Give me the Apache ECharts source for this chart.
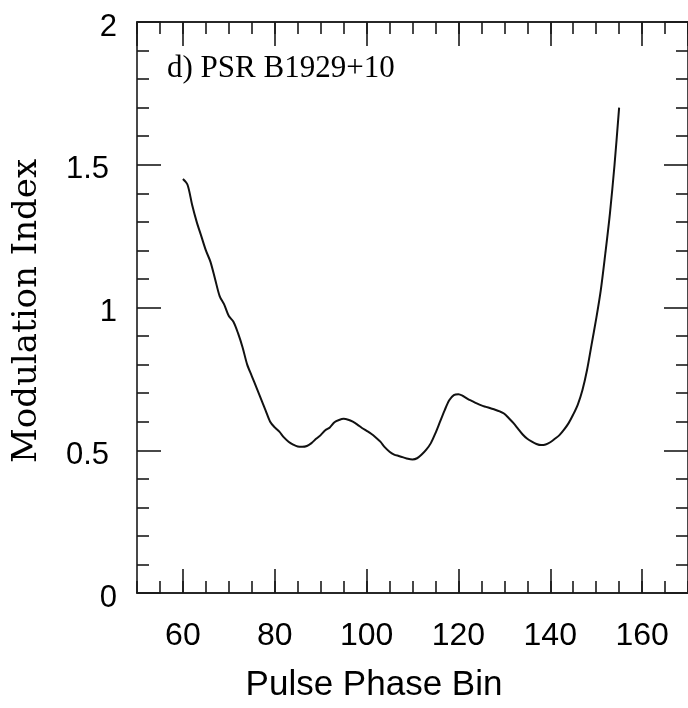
<!DOCTYPE html>
<html>
<head>
<meta charset="utf-8">
<script src="https://cdn.jsdelivr.net/npm/echarts@6/dist/echarts.min.js"></script>
<style>
html,body{margin:0;padding:0;background:#fff;}
#chart{width:688px;height:708px;}
</style>
</head>
<body>
<div id="chart"></div>
<script>
const phaseBins = [60,61,62,63,64,65,66,67,68,69,70,71,72,73,74,75,76,77,78,79,80,81,82,83,84,85,86,87,88,89,90,91,92,93,94,95,96,97,98,99,100,101,102,103,104,105,106,107,108,109,110,111,112,113,114,115,116,117,118,119,120,121,122,123,124,125,126,127,128,129,130,131,132,133,134,135,136,137,138,139,140,141,142,143,144,145,146,147,148,149,150,151,152,153,154,155];
const modIndex = [1.45,1.43,1.36,1.30,1.25,1.20,1.16,1.10,1.04,1.01,0.97,0.95,0.91,0.86,0.80,0.76,0.72,0.68,0.64,0.60,0.58,0.565,0.545,0.53,0.52,0.513,0.512,0.515,0.525,0.54,0.553,0.57,0.58,0.598,0.606,0.61,0.607,0.60,0.59,0.578,0.568,0.558,0.545,0.53,0.51,0.495,0.485,0.48,0.475,0.47,0.468,0.472,0.485,0.502,0.525,0.56,0.60,0.64,0.675,0.693,0.696,0.69,0.68,0.672,0.664,0.657,0.652,0.647,0.642,0.636,0.628,0.612,0.595,0.575,0.555,0.54,0.53,0.522,0.518,0.52,0.528,0.54,0.553,0.572,0.595,0.625,0.66,0.71,0.78,0.87,0.96,1.06,1.19,1.33,1.50,1.70];
const xRange = [50, 170];
const yRange = [0, 2];
const yTickLabels = ['0','0.5','1','1.5','2'];
const titleText = 'd) PSR B1929+10';
const xName = 'Pulse Phase Bin';
const yName = 'Modulation Index';

const chart = echarts.init(document.getElementById('chart'), null, {renderer:'canvas'});
const axisCol = '#1a1a1a';
const lineStyle = {color: axisCol, width: 1.6};
function xAx(pos, major, labels) {
  const a = {
    type: 'value', position: pos, min: xRange[0], max: xRange[1],
    axisLine: {show: true, onZero: false, lineStyle: lineStyle},
    axisTick: {show: true, inside: true, length: major ? 24 : 12, lineStyle: lineStyle},
    splitLine: {show: false},
    axisLabel: {show: labels, fontSize: 32, fontFamily: 'Liberation Sans', color: '#000', margin: 27,
      showMinLabel: false, showMaxLabel: false}
  };
  if (major) { a.splitNumber = 6; } else { a.interval = 5; }
  return a;
}
function yAx(pos, labels) {
  return {
    type: 'value', position: pos, min: yRange[0], max: yRange[1], interval: 0.5,
    axisLine: {show: true, onZero: false, lineStyle: lineStyle},
    axisTick: {show: true, inside: true, length: 24, lineStyle: lineStyle},
    minorTick: {show: true, splitNumber: 5, length: 12, lineStyle: lineStyle},
    splitLine: {show: false},
    axisLabel: {show: labels, margin: 20, padding: [10,0,0,0],
      formatter: function (v) {
        const s = yTickLabels.find(t => Math.abs(parseFloat(t) - v) < 1e-9) || String(v);
        return s.indexOf('.') >= 0 ? '{f|' + s + '}' : '{i|' + s + '}';
      },
      rich: {
        i: {fontSize: 31, fontFamily: 'Liberation Sans', color: '#000'},
        f: {fontSize: 31, fontFamily: 'Liberation Sans', color: '#000', padding: [0,8,0,0]}
      }
    }
  };
}
chart.setOption({
  animation: false,
  backgroundColor: '#fff',
  grid: {left: 137, top: 22, width: 554, height: 571, containLabel: false},
  xAxis: [xAx('bottom', true, true), xAx('top', true, false), xAx('bottom', false, false), xAx('top', false, false)],
  yAxis: [yAx('left', true), yAx('right', false)],
  series: [{
    type: 'line', xAxisIndex: 0, yAxisIndex: 0,
    data: phaseBins.map((b, i) => [b, modIndex[i]]),
    showSymbol: false, smooth: 0.3,
    lineStyle: {color: '#111', width: 2}
  }],
  graphic: [
    {type: 'text', left: 167, top: 53, style: {text: titleText, font: '31px "Liberation Serif"', fill: '#000'}},
    {type: 'text', x: 374, y: 685, style: {text: xName, font: '35px "Liberation Sans"', fill: '#000', align: 'center', verticalAlign: 'middle'}},
    {type: 'text', x: 27, y: 311, rotation: Math.PI / 2, style: {text: yName, font: '34px "DejaVu Serif"', fill: '#000', align: 'center', verticalAlign: 'middle'}}
  ]
});
</script>
</body>
</html>
